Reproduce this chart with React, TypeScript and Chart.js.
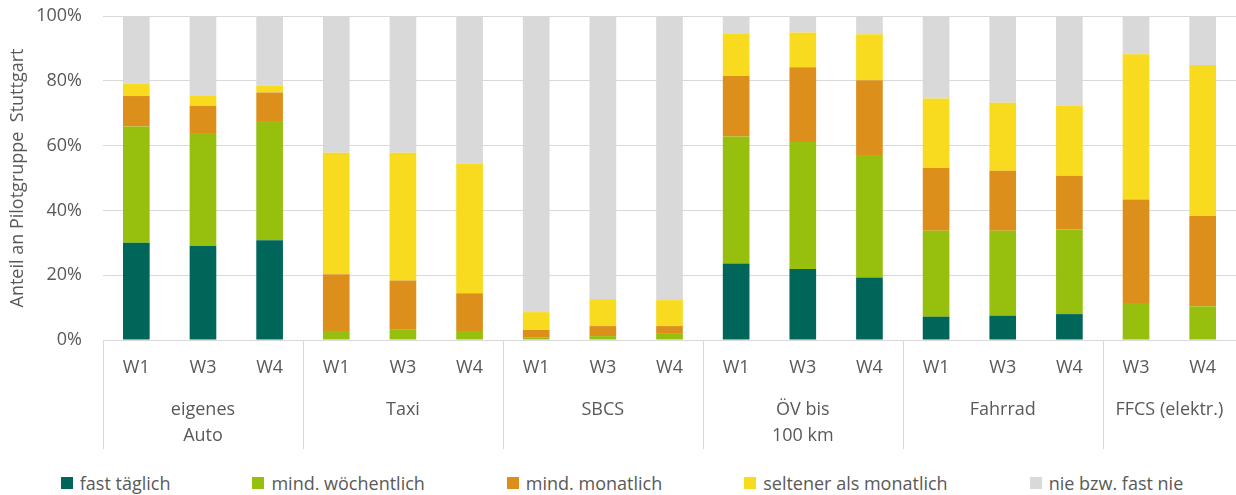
import React, { useEffect, useRef } from 'react';
import { Chart, registerables } from 'chart.js';

Chart.register(...registerables);

// ---- data ----
const waveLabels = ['W1', 'W3', 'W4', 'W1', 'W3', 'W4', 'W1', 'W3', 'W4', 'W1', 'W3', 'W4', 'W1', 'W3', 'W4', 'W3', 'W4'];
const groupLabels: (string | string[])[] = [['eigenes', 'Auto'], 'Taxi', 'SBCS', ['ÖV bis', '100 km'], 'Fahrrad', 'FFCS (elektr.)'];
const groupSizes = [3, 3, 3, 3, 3, 2];

const fastTaeglich = [30.0, 29.0, 30.8, 0, 0, 0, 0, 0, 0, 23.6, 21.9, 19.3, 7.2, 7.5, 8.0, 0, 0];
const mindWoechentlich = [35.9, 34.6, 36.5, 2.8, 3.2, 2.8, 0.7, 1.2, 1.9, 39.2, 39.2, 37.8, 26.5, 26.2, 26.1, 11.4, 10.4];
const mindMonatlich = [9.4, 8.7, 9.1, 17.5, 15.2, 11.6, 2.4, 3.1, 2.4, 18.7, 23.1, 23.1, 19.4, 18.5, 16.6, 32.0, 27.9];
const seltener = [3.8, 3.2, 2.1, 37.5, 39.4, 40.1, 5.5, 8.3, 8.0, 13.2, 10.7, 14.2, 21.4, 21.0, 21.7, 44.8, 46.6];
const nieFastNie = [20.9, 24.5, 21.5, 42.2, 42.2, 45.5, 91.4, 87.4, 87.7, 5.3, 5.1, 5.6, 25.5, 26.8, 27.6, 11.8, 15.1];

const seriesNames = ['fast täglich', 'mind. wöchentlich', 'mind. monatlich', 'seltener als monatlich', 'nie bzw. fast nie'];
const seriesValues = [fastTaeglich, mindWoechentlich, mindMonatlich, seltener, nieFastNie];
const seriesColors = ['#00665A', '#97BF0D', '#DC901B', '#F8DB1E', '#D9D9D9'];

const yTicks = [0, 20, 40, 60, 80, 100];
const yTitle = 'Anteil an Pilotgruppe  Stuttgart';

const FONT = '"Open Sans", sans-serif';
const TEXT = '#595959';
const GRID = '#D9D9D9';

export default function App() {
  const ref = useRef<HTMLCanvasElement>(null);

  useEffect(() => {
    const groupStarts: number[] = [];
    const groupCenters: number[] = [];
    let s = 0;
    groupSizes.forEach((n) => {
      groupStarts.push(s);
      groupCenters.push(s + (n - 1) / 2);
      s += n;
    });
    const total = s;

    const separatorPlugin = {
      id: 'groupSeparators',
      afterDraw(chart: any) {
        const x = chart.scales.x;
        const x2 = chart.scales.x2;
        const ctx = chart.ctx;
        ctx.save();
        ctx.strokeStyle = GRID;
        ctx.lineWidth = 1;
        groupStarts.forEach((st) => {
          const px = Math.round(x2.getPixelForValue(st - 0.5)) + 0.5;
          ctx.beginPath();
          ctx.moveTo(px, x.top);
          ctx.lineTo(px, x2.bottom);
          ctx.stroke();
        });
        ctx.restore();
      },
    };

    const fixHorizontal = (h: number) => (sc: any) => {
      sc.height = h;
      sc.paddingLeft = 0;
      sc.paddingRight = -3;
    };

    const chart = new Chart(ref.current as HTMLCanvasElement, {
      type: 'bar',
      data: {
        labels: waveLabels,
        datasets: seriesNames.map((name, i) => ({
          label: name,
          data: seriesValues[i],
          backgroundColor: seriesColors[i],
          borderWidth: 0,
          xAxisID: 'x',
          yAxisID: 'y',
          categoryPercentage: 0.8,
          barPercentage: 0.5,
        })),
      },
      plugins: [separatorPlugin],
      options: {
        animation: false,
        responsive: true,
        maintainAspectRatio: false,
        layout: { padding: { top: 0, right: -3, bottom: 11, left: 0 } },
        plugins: {
          legend: { display: false },
          tooltip: { enabled: false },
        },
        scales: {
          x: {
            stacked: true,
            grid: { display: false, drawTicks: false },
            border: { display: true, color: GRID, width: 1 },
            ticks: {
              color: TEXT,
              font: { family: FONT, size: 18, lineHeight: 1.2 },
              padding: 17,
              autoSkip: false,
              maxRotation: 0,
            },
            afterFit: fixHorizontal(39),
          },
          x2: {
            type: 'linear',
            position: 'bottom',
            offset: false,
            min: -0.5,
            max: total - 0.5,
            grid: { display: false, drawTicks: false, offset: false },
            border: { display: false },
            afterBuildTicks: (scale: any) => {
              scale.ticks = groupCenters.map((v) => ({ value: v }));
            },
            ticks: {
              color: TEXT,
              font: { family: FONT, size: 18, lineHeight: 1.45 },
              padding: 18,
              autoSkip: false,
              maxRotation: 0,
              callback: (_v: any, i: number) => groupLabels[i],
            },
            afterFit: fixHorizontal(70),
          },
          y: {
            stacked: true,
            min: 0,
            max: 100,
            afterBuildTicks: (scale: any) => {
              scale.ticks = yTicks.map((v) => ({ value: v }));
            },
            afterFit: (sc: any) => {
              sc.width = 103;
              sc.paddingTop = 16;
              sc.paddingBottom = 11;
              sc.paddingRight = -3;
            },
            grid: { color: GRID, drawTicks: false, lineWidth: 1 },
            border: { display: false },
            ticks: {
              color: TEXT,
              font: { family: FONT, size: 18, lineHeight: 1.2 },
              padding: 21,
              callback: (v: any) => v + '%',
            },
            title: {
              display: true,
              text: yTitle,
              color: TEXT,
              font: { family: FONT, size: 18, lineHeight: 1.2 },
              padding: { top: 7, bottom: 7 },
            },
          },
        },
      } as any,
    });

    return () => chart.destroy();
  }, []);

  return (
    <div style={{ position: 'fixed', left: 0, top: 0, width: 1236, height: 495, background: '#fff' }}>
      <div style={{ position: 'absolute', left: 0, top: 0, width: 1236, height: 460 }}>
        <canvas ref={ref} />
      </div>
      <div
        style={{
          position: 'absolute',
          left: 0,
          top: 471,
          width: 1236,
          height: 24,
          boxSizing: 'border-box',
          paddingLeft: 8,
          display: 'flex',
          justifyContent: 'center',
          alignItems: 'center',
          gap: 82,
          fontFamily: FONT,
          fontSize: 18,
          lineHeight: '24px',
          color: TEXT,
          whiteSpace: 'nowrap',
        }}
      >
        {seriesNames.map((name, i) => (
          <div key={name} style={{ display: 'flex', alignItems: 'center' }}>
            <span style={{ display: 'inline-block', width: 12, height: 12, background: seriesColors[i], marginRight: 7 }} />
            <span>{name}</span>
          </div>
        ))}
      </div>
    </div>
  );
}
